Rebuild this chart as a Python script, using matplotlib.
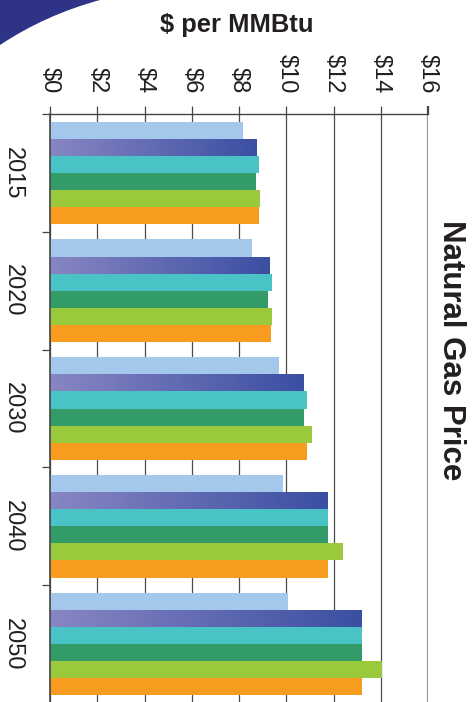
import matplotlib
matplotlib.use('Agg')
import matplotlib.pyplot as plt
import numpy as np
from matplotlib.colors import LinearSegmentedColormap
from matplotlib.path import Path
from matplotlib.patches import PathPatch
from matplotlib.ticker import FixedLocator

plt.rcParams['font.family'] = ['Liberation Sans', 'DejaVu Sans']

# данные: цена газа, $ за MMBtu
years = ['2015', '2020', '2030', '2040', '2050']
light_blue = [8.16, 8.56, 9.70, 9.87, 10.08]
blue = [8.76, 9.28, 10.72, 11.74, 13.18]
teal = [8.86, 9.41, 10.89, 11.78, 13.22]
green = [8.73, 9.24, 10.76, 11.78, 13.22]
lime = [8.90, 9.41, 11.10, 12.41, 14.07]
orange = [8.86, 9.36, 10.89, 11.78, 13.22]
x_ticks = [0, 2, 4, 6, 8, 10, 12, 14, 16]

series = [light_blue, blue, teal, green, lime, orange]
colors = ['#a3c8eb', None, '#4ac3c6', '#339b68', '#9aca3c', '#f89c1f']
text_color = '#231f20'

W, H = 474, 702
fig = plt.figure(figsize=(W / 100, H / 100), dpi=100)
# область графика в пикселях: слева 50, справа 428, сверху 114
ax = fig.add_axes([50 / W, -1 / H, (428 - 50) / W, (703 - 114) / H])

group = 0.87
h = group / len(series)
y = np.arange(len(years))
grad = LinearSegmentedColormap.from_list('bl', ['#8886c3', '#3b4fa2'])
for j, vals in enumerate(series):
    pos = y + (j - 2.5) * h
    if colors[j] is not None:
        ax.barh(pos, vals, height=h, color=colors[j], zorder=2)
    else:
        bars = ax.barh(pos, vals, height=h, color='none', zorder=2)
        # градиент для синих столбцов
        for b in bars:
            x0, y0 = b.get_x(), b.get_y()
            im = ax.imshow(np.linspace(0, 1, 256).reshape(1, -1), cmap=grad,
                           extent=(x0, x0 + b.get_width(), y0, y0 + b.get_height()),
                           aspect='auto', zorder=2)
            im.set_clip_path(b)

ax.set_xlim(0, 16)
ax.set_ylim(len(years) - 0.5, -0.5)
ax.set_aspect('auto')

ax.xaxis.tick_top()
ax.set_xticks(x_ticks)
ax.set_xticklabels(['\\$%d' % v for v in x_ticks], rotation=-90,
                   fontsize=17, color=text_color)
ax.tick_params(axis='x', length=5.8, width=0.9, color='#444444', pad=9)
ax.grid(axis='x', color='#4d4d4d', linewidth=0.9, zorder=1)
ax.set_axisbelow(True)
gl = ax.get_xgridlines()[-1]
gl.set_color('#9a9a9a')
gl.set_linewidth(1.6)
ax.xaxis.get_major_ticks()[-1].tick2line.set_color('#9a9a9a')
ax.xaxis.get_major_ticks()[-1].tick2line.set_markeredgewidth(1.6)

ax.set_yticks(y)
ax.set_yticklabels(years, rotation=-90, fontsize=17, color=text_color,
                   va='center')
ax.yaxis.set_minor_locator(FixedLocator(np.arange(-0.5, len(years) - 1, 1.0)))
ax.tick_params(axis='y', which='major', length=0, pad=19)
ax.tick_params(axis='y', which='minor', length=5.8, width=0.9, color='#444444')

for s in ['right', 'bottom']:
    ax.spines[s].set_visible(False)
ax.spines['top'].set_color('#444444')
ax.spines['top'].set_linewidth(1.0)
ax.spines['left'].set_color('#444444')
ax.spines['left'].set_linewidth(1.2)

fig.text(237 / W, 1 - 32 / H, '\\$ per MMBtu', ha='center', va='baseline',
         fontsize=18.4, fontweight='bold', color=text_color)
fig.text(451 / W, 1 - 350 / H, 'Natural Gas Price', ha='center', va='center',
         rotation=-90, fontsize=22.5, fontweight='bold', color=text_color)

# синяя дуга в левом верхнем углу
pts = [(0, 0), (0, 45), (45, 15), (100, 0), (0, 0)]
codes = [Path.MOVETO, Path.LINETO, Path.CURVE3, Path.CURVE3, Path.CLOSEPOLY]
verts = [(px / W, 1 - py / H) for px, py in pts]
fig.patches.append(PathPatch(Path(verts, codes), transform=fig.transFigure,
                             facecolor='#2e3387', edgecolor='none'))

fig.savefig('out.png', dpi=100)
